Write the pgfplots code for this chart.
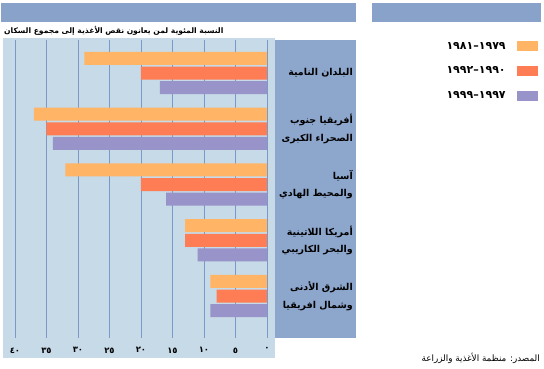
\documentclass[border=0pt]{standalone}
\usepackage{fontspec}
\usepackage{pgfplots}
\pgfplotsset{compat=1.18}
\setmainfont{DejaVu Sans}
\newfontfamily\arabicfont[Script=Arabic]{DejaVu Sans}
\TeXXeTstate=1
\definecolor{topbar}{HTML}{88A2CA}
\definecolor{panel}{HTML}{8DA6CC}
\definecolor{plotbg}{HTML}{C6DAE8}
\definecolor{gridc}{HTML}{7C98C6}
\definecolor{cOrange}{HTML}{FFB466}
\definecolor{cRed}{HTML}{FF7D55}
\definecolor{cPurple}{HTML}{9893C8}
\begin{document}
\begin{tikzpicture}
\path[use as bounding box] (0,0) rectangle (544pt,368pt);
\fill[topbar] (1pt,365pt) rectangle (356pt,346pt);
\fill[topbar] (372pt,365pt) rectangle (541pt,346pt);
\fill[plotbg] (3pt,330pt) rectangle (275pt,10pt);
\fill[panel] (275pt,328pt) rectangle (356pt,30pt);
\node[anchor=west, font=\arabicfont\bfseries\fontsize{7.6}{10}\selectfont, inner sep=0pt] at (4pt,337.5pt) {\beginR النسبة المئوية لمن يعانون نقص الأغذية إلى مجموع السكان\endR};
\node[anchor=east, font=\arabicfont\fontsize{8.8}{10}\selectfont, inner sep=0pt] at (540pt,10pt) {\beginR المصدر: منظمة الأغذية والزراعة\endR};
\begin{axis}[
  at={(15pt,30pt)}, anchor=south west,
  scale only axis, width=252pt, height=298pt,
  xbar, bar width=13pt, bar shift=0pt,
  x dir=reverse, y dir=reverse,
  xmin=0, xmax=40, ymin=0.408, ymax=5.753,
  axis line style={draw=none},
  major tick length=0pt,
  xtick={0,5,10,15,20,25,30,35,40},
  xticklabels={٠,٥,١٠,١٥,٢٠,٢٥,٣٠,٣٥,٤٠},
  xticklabel style={font=\arabicfont\bfseries\fontsize{8.5}{10}\selectfont, yshift=-6pt},
  xmajorgrids, grid style={gridc, line width=0.6pt},
  ytick={1,2,3,4,5},
  yticklabel pos=right,
  yticklabels={
    {\beginR البلدان النامية\endR},
    {\beginR أفريقيا جنوب\endR\\\beginR الصحراء الكبرى\endR},
    {\beginR آسيا\endR\\\beginR والمحيط الهادي\endR},
    {\beginR أمريكا اللاتينية\endR\\\beginR والبحر الكاريبي\endR},
    {\beginR الشرق الأدنى\endR\\\beginR وشمال افريقيا\endR}},
  yticklabel style={anchor=east, align=right, inner sep=0pt, xshift=86pt,
    font=\arabicfont\bfseries\fontsize{9.5}{17.5}\selectfont},
  legend plot pos=right,
  legend cell align=right,
  legend image code/.code={\fill[#1] (0pt,-5pt) rectangle (21pt,5pt);},
  legend style={at={(axis description cs:2.087,1.0067)}, anchor=north east,
    draw=none, fill=none, row sep=12pt, column sep=9pt,
    font=\bfseries\fontsize{11}{11}\selectfont},
]
\addplot[fill=cOrange, draw=none] coordinates {(29,0.7363) (37,1.7363) (32,2.7363) (13,3.7363) (9,4.7363)};
\addlegendentry{١٩٧٩–١٩٨١}
\addplot[fill=cRed, draw=none] coordinates {(20,1) (35,2) (20,3) (13,4) (8,5)};
\addlegendentry{١٩٩٠–١٩٩٢}
\addplot[fill=cPurple, draw=none] coordinates {(17,1.2637) (34,2.2637) (16,3.2637) (11,4.2637) (9,5.2637)};
\addlegendentry{١٩٩٧–١٩٩٩}
\end{axis}
\end{tikzpicture}
\end{document}
